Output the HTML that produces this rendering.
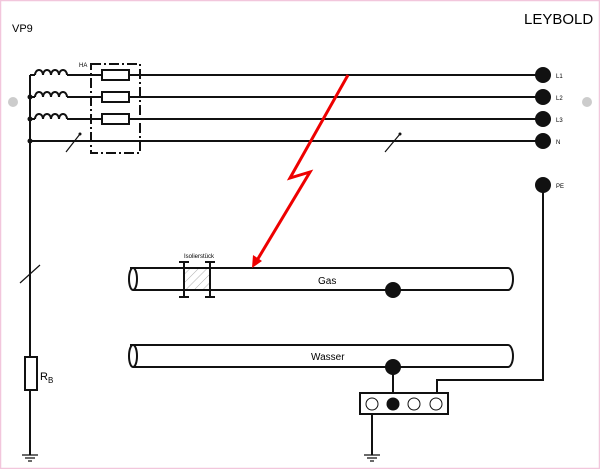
<!DOCTYPE html>
<html><head><style>
body{margin:0;background:#fff}
svg{display:block;font-family:"Liberation Sans",sans-serif}
</style></head><body>
<svg width="600" height="469" viewBox="0 0 600 469">
<defs>
<pattern id="h" width="6" height="6" patternUnits="userSpaceOnUse" patternTransform="rotate(45)">
<line x1="0" y1="0" x2="0" y2="6" stroke="#999" stroke-width="0.8"/>
</pattern>
</defs>
<rect x="0.5" y="0.5" width="599" height="468" fill="#fff" stroke="#f2c6dc" stroke-width="1.5"/>
<text x="524" y="24" font-size="15">LEYBOLD</text>
<text x="12" y="32" font-size="11">VP9</text>
<circle cx="13" cy="102" r="5" fill="#ccc"/>
<circle cx="587" cy="102" r="5" fill="#ccc"/>
<rect x="185" y="269" width="24" height="20" fill="url(#h)"/>
<g stroke="#111" stroke-width="2" fill="none">
<path d="M30 75V455"/>
<path d="M30 75H35M67 75H543"/>
<path d="M30 97H35M67 97H543"/>
<path d="M30 119H35M67 119H543"/>
<path d="M30 141H543"/>
<path d="M35 75a4 5 0 0 1 8 0a4 5 0 0 1 8 0a4 5 0 0 1 8 0a4 5 0 0 1 8 0"/>
<path d="M35 97a4 5 0 0 1 8 0a4 5 0 0 1 8 0a4 5 0 0 1 8 0a4 5 0 0 1 8 0"/>
<path d="M35 119a4 5 0 0 1 8 0a4 5 0 0 1 8 0a4 5 0 0 1 8 0a4 5 0 0 1 8 0"/>
<rect x="91" y="64" width="49" height="89" stroke-dasharray="10 3 2 3"/>
<rect x="102" y="70" width="27" height="10" fill="#fff"/>
<rect x="102" y="92" width="27" height="10" fill="#fff"/>
<rect x="102" y="114" width="27" height="10" fill="#fff"/>
<path d="M543 185V380H437V393"/>
<rect x="360" y="393" width="88" height="21" fill="#fff"/>
<path d="M372 414V455M393 367V393"/>
<path d="M130 268H508a5 11 0 0 1 0 22H133"/>
<ellipse cx="133" cy="279" rx="4" ry="11"/>
<path d="M130 345H508a5 11 0 0 1 0 22H133"/>
<ellipse cx="133" cy="356" rx="4" ry="11"/>
<path d="M184 262V297M210 262V297M179 262H189M205 262H215M179 297H189M205 297H215"/>
<rect x="25" y="357" width="12" height="33" fill="#fff"/>
</g>
<g stroke="#111" stroke-width="1.2">
<path d="M66 152L80 134M385 152L400 134M20 283L40 265"/>
<path d="M22 455H38M25 458H35M28 461H32M364 455H380M367 458H377M370 461H374"/>
</g>
<g fill="#111">
<circle cx="30" cy="97" r="2.5"/><circle cx="30" cy="119" r="2.5"/><circle cx="30" cy="141" r="2.5"/>
<circle cx="80" cy="134" r="1.5"/><circle cx="400" cy="134" r="1.5"/>
<circle cx="543" cy="75" r="8"/><circle cx="543" cy="97" r="8"/><circle cx="543" cy="119" r="8"/><circle cx="543" cy="141" r="8"/><circle cx="543" cy="185" r="8"/>
<circle cx="393" cy="290" r="8"/><circle cx="393" cy="367" r="8"/><circle cx="393" cy="404" r="6.5"/>
</g>
<g fill="#fff" stroke="#111" stroke-width="1">
<circle cx="372" cy="404" r="6"/><circle cx="414" cy="404" r="6"/><circle cx="436" cy="404" r="6"/>
</g>
<path d="M348 75L290 178L310 172L256 262" stroke="#e00" stroke-width="3" fill="none"/>
<path d="M252 268L253 255L262 261Z" fill="#e00"/>
<g font-size="6">
<text x="556" y="78">L1</text><text x="556" y="100">L2</text><text x="556" y="122">L3</text><text x="556" y="144">N</text><text x="556" y="188">PE</text>
<text x="79" y="67">HA</text><text x="184" y="258">Isolierstück</text>
</g>
<text x="318" y="284" font-size="10">Gas</text>
<text x="311" y="360" font-size="10">Wasser</text>
<text x="40" y="380" font-size="11">R<tspan font-size="8" dy="3">B</tspan></text>
</svg>
</body></html>
